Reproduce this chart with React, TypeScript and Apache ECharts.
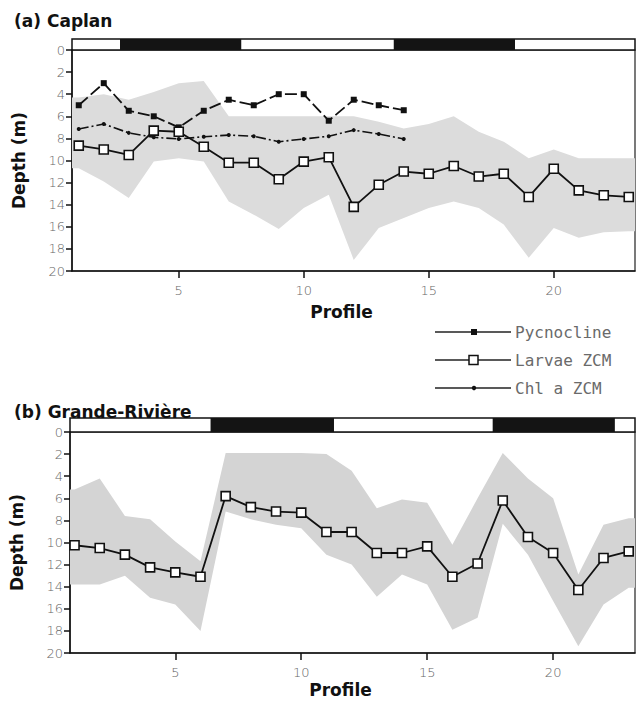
import React, { useEffect, useRef } from 'react';
import * as echarts from 'echarts';

// ---------- data ----------
const profiles = [1, 2, 3, 4, 5, 6, 7, 8, 9, 10, 11, 12, 13, 14, 15, 16, 17, 18, 19, 20, 21, 22, 23];
const profilesA14 = [1, 2, 3, 4, 5, 6, 7, 8, 9, 10, 11, 12, 13, 14];
const xTicks = [5, 10, 15, 20];

// (a) Caplan
const pycnoclineA = [5.0, 3.0, 5.5, 6.0, 7.0, 5.5, 4.5, 5.0, 4.0, 4.0, 6.4, 4.5, 5.0, 5.45];
const chlA = [7.15, 6.7, 7.5, 7.9, 8.05, 7.85, 7.7, 7.8, 8.3, 8.05, 7.8, 7.25, 7.6, 8.05];
const larvaeA = [8.65, 9.0, 9.5, 7.3, 7.4, 8.75, 10.2, 10.2, 11.7, 10.1, 9.7, 14.2, 12.2, 11.0, 11.2, 10.5, 11.45, 11.2, 13.3, 10.75, 12.7, 13.15, 13.3];
const bandTopA = [4.3, 4.0, 4.5, 3.8, 3.0, 2.8, 6.0, 6.0, 6.0, 6.0, 6.0, 6.0, 6.5, 7.1, 6.7, 6.0, 7.4, 8.3, 9.8, 9.0, 9.8, 9.8, 9.8];
const bandBotA = [10.7, 11.9, 13.4, 10.1, 9.8, 10.1, 13.7, 14.9, 16.2, 14.3, 13.1, 19.0, 16.1, 15.2, 14.3, 13.7, 14.3, 15.8, 18.8, 16.1, 17.0, 16.5, 16.4];
const nightA = [[2.65, 7.5], [13.6, 18.45]];

// (b) Grande-Rivière
const larvaeB = [10.25, 10.5, 11.1, 12.25, 12.7, 13.1, 5.8, 6.8, 7.2, 7.3, 9.05, 9.05, 10.95, 10.95, 10.35, 13.1, 11.9, 6.2, 9.5, 10.95, 14.3, 11.4, 10.8];
const bandTopB = [5.2, 4.2, 7.6, 7.9, 9.9, 11.7, 1.9, 1.9, 1.9, 1.9, 2.0, 3.5, 6.9, 6.1, 6.4, 10.2, 6.0, 1.9, 4.2, 6.0, 12.9, 8.4, 7.8];
const bandBotB = [13.8, 13.8, 13.0, 15.0, 15.6, 18.0, 7.2, 7.9, 8.4, 8.7, 11.1, 12.0, 14.9, 12.9, 13.8, 17.9, 16.8, 8.3, 11.1, 15.3, 19.4, 15.6, 14.1];
const nightB = [[6.4, 11.3], [17.6, 22.45]];

const legendItems = ['Pycnocline', 'Larvae ZCM', 'Chl a ZCM'];

// ---------- styles ----------
const AX = '#111';
const TICK_LABEL = { color: '#666', fontSize: 13, fontFamily: 'DejaVu Sans', fontWeight: 200 as any };
const NAME_STYLE = { color: '#111', fontSize: 17, fontFamily: 'DejaVu Sans', fontWeight: 'bold' as any };

function xAxisMain(gridIndex: number, min: number, max: number, gap: number) {
  return {
    gridIndex, type: 'value', min, max,
    axisLine: { show: true, onZero: false, lineStyle: { color: AX, width: 1.5 } },
    axisTick: { show: true, customValues: xTicks, length: 7, lineStyle: { color: AX, width: 1.5 } },
    axisLabel: { customValues: xTicks, margin: 13, ...TICK_LABEL },
    splitLine: { show: false },
    name: 'Profile', nameLocation: 'middle', nameGap: gap,
    nameTextStyle: { ...NAME_STYLE, padding: [0, 24, 0, 0] },
  };
}
function yAxisMain(gridIndex: number) {
  return {
    gridIndex, type: 'value', inverse: true, min: 0, max: 20, interval: 2,
    axisLine: { show: true, onZero: false, lineStyle: { color: AX, width: 1.5 } },
    axisTick: { show: true, length: 6, lineStyle: { color: AX, width: 1.5 } },
    axisLabel: { margin: 7, ...TICK_LABEL },
    splitLine: { show: false },
    name: 'Depth (m)', nameLocation: 'middle', nameGap: 45, nameRotate: 90,
    nameTextStyle: NAME_STYLE,
  };
}
function xAxisStrip(gridIndex: number, min: number, max: number) {
  return { gridIndex, type: 'value', min, max, show: false };
}
function yAxisStrip(gridIndex: number) {
  return { gridIndex, type: 'value', min: 0, max: 1, show: false };
}

function bandSeries(idx: number, top: number[], bot: number[], color: string, min: number, max: number) {
  const n = profiles.length;
  return {
    type: 'custom', xAxisIndex: idx, yAxisIndex: idx, silent: true, z: 1, clip: true,
    data: [[profiles[0], top[0]]],
    renderItem: (_params: any, api: any) => {
      const upper = [api.coord([min, top[0]]), ...profiles.map((p, i) => api.coord([p, top[i]])), api.coord([max, top[n - 1]])];
      const lower = [api.coord([min, bot[0]]), ...profiles.map((p, i) => api.coord([p, bot[i]])), api.coord([max, bot[n - 1]])].reverse();
      return { type: 'polygon', shape: { points: upper.concat(lower) }, style: { fill: color, stroke: 'none' } };
    },
  };
}

function stripSeries(idx: number, night: number[][], min: number) {
  return {
    type: 'line', xAxisIndex: idx, yAxisIndex: idx, symbol: 'none', silent: true,
    lineStyle: { opacity: 0 },
    data: [[min, 0.5]],
    markArea: {
      silent: true,
      itemStyle: { color: '#141414' },
      data: night.map(([s, e]) => [{ xAxis: s }, { xAxis: e }]),
    },
  };
}

function larvaeSeries(idx: number, vals: number[]) {
  return {
    type: 'line', xAxisIndex: idx, yAxisIndex: idx, z: 4,
    data: profiles.map((p, i) => [p, vals[i]]),
    symbol: 'rect', symbolSize: 9,
    lineStyle: { color: '#111', width: 1.8 },
    itemStyle: { color: '#fff', borderColor: '#111', borderWidth: 1.6 },
  };
}

export default function App() {
  const ref = useRef<HTMLDivElement>(null);
  useEffect(() => {
    document.body.style.margin = '0';
    if (!ref.current) return;
    const chart = echarts.init(ref.current, null, { renderer: 'svg' });
    const minA = 0.73, maxA = 23.25, minB = 0.82, maxB = 23.25;

    const legendY = [332, 360, 388];
    const legendGraphic: any[] = [];
    legendY.forEach((y, i) => {
      legendGraphic.push({ type: 'line', shape: { x1: 435, y1: y, x2: 511, y2: y }, style: { stroke: '#222', lineWidth: 1.4 } });
      if (i === 0) legendGraphic.push({ type: 'rect', shape: { x: 471, y: y - 3, width: 6, height: 6 }, style: { fill: '#111' } });
      if (i === 1) legendGraphic.push({ type: 'rect', shape: { x: 469, y: y - 4.5, width: 9, height: 9 }, style: { fill: '#fff', stroke: '#111', lineWidth: 1.5 } });
      if (i === 2) legendGraphic.push({ type: 'circle', shape: { cx: 474, cy: y, r: 2.2 }, style: { fill: '#111' } });
      legendGraphic.push({
        type: 'text', x: 515, y,
        style: { text: legendItems[i], fill: '#6a6a6a', font: '16px "DejaVu Sans Mono"', textVerticalAlign: 'middle', textAlign: 'left' },
      });
    });

    const titleStyle = { color: '#111', fontSize: 17, fontFamily: 'DejaVu Sans', fontWeight: 'bold' };
    const option: any = {
      animation: false,
      backgroundColor: '#fff',
      title: [
        { text: '(a) Caplan', left: 9, top: 7, textStyle: titleStyle },
        { text: '(b) Grande-Rivière', left: 9, top: 398, textStyle: titleStyle },
      ],
      grid: [
        { left: 72, right: 2, top: 50, height: 221, show: true, borderColor: '#222', borderWidth: 1.2, backgroundColor: 'transparent' },
        { left: 72, right: 2, top: 39, height: 11, show: true, borderColor: '#111', borderWidth: 1.5, backgroundColor: '#fff' },
        { left: 70, right: 2, top: 432, height: 221, show: true, borderColor: '#222', borderWidth: 1.2, backgroundColor: 'transparent' },
        { left: 70, right: 2, top: 418, height: 14, show: true, borderColor: '#111', borderWidth: 1.5, backgroundColor: '#fff' },
      ],
      xAxis: [xAxisMain(0, minA, maxA, 32), xAxisStrip(1, minA, maxA), xAxisMain(2, minB, maxB, 28), xAxisStrip(3, minB, maxB)],
      yAxis: [yAxisMain(0), yAxisStrip(1), yAxisMain(2), yAxisStrip(3)],
      series: [
        bandSeries(0, bandTopA, bandBotA, '#dcdcdc', minA, maxA),
        bandSeries(2, bandTopB, bandBotB, '#d4d4d4', minB, maxB),
        stripSeries(1, nightA, minA),
        stripSeries(3, nightB, minB),
        {
          name: 'Pycnocline', type: 'line', xAxisIndex: 0, yAxisIndex: 0, z: 3,
          data: profilesA14.map((p, i) => [p, pycnoclineA[i]]),
          symbol: 'rect', symbolSize: 6,
          lineStyle: { color: '#111', width: 1.8, type: [12, 4] },
          itemStyle: { color: '#111' },
        },
        {
          name: 'Chl a ZCM', type: 'line', xAxisIndex: 0, yAxisIndex: 0, z: 3,
          data: profilesA14.map((p, i) => [p, chlA[i]]),
          symbol: 'circle', symbolSize: 4,
          lineStyle: { color: '#111', width: 1.6, type: [10, 3, 2, 3] },
          itemStyle: { color: '#111' },
        },
        { name: 'Larvae ZCM', ...larvaeSeries(0, larvaeA) },
        { name: 'Larvae ZCM b', ...larvaeSeries(2, larvaeB) },
      ],
      graphic: legendGraphic,
    };
    chart.setOption(option);
    return () => chart.dispose();
  }, []);
  return <div ref={ref} style={{ width: 637, height: 704 }} />;
}
